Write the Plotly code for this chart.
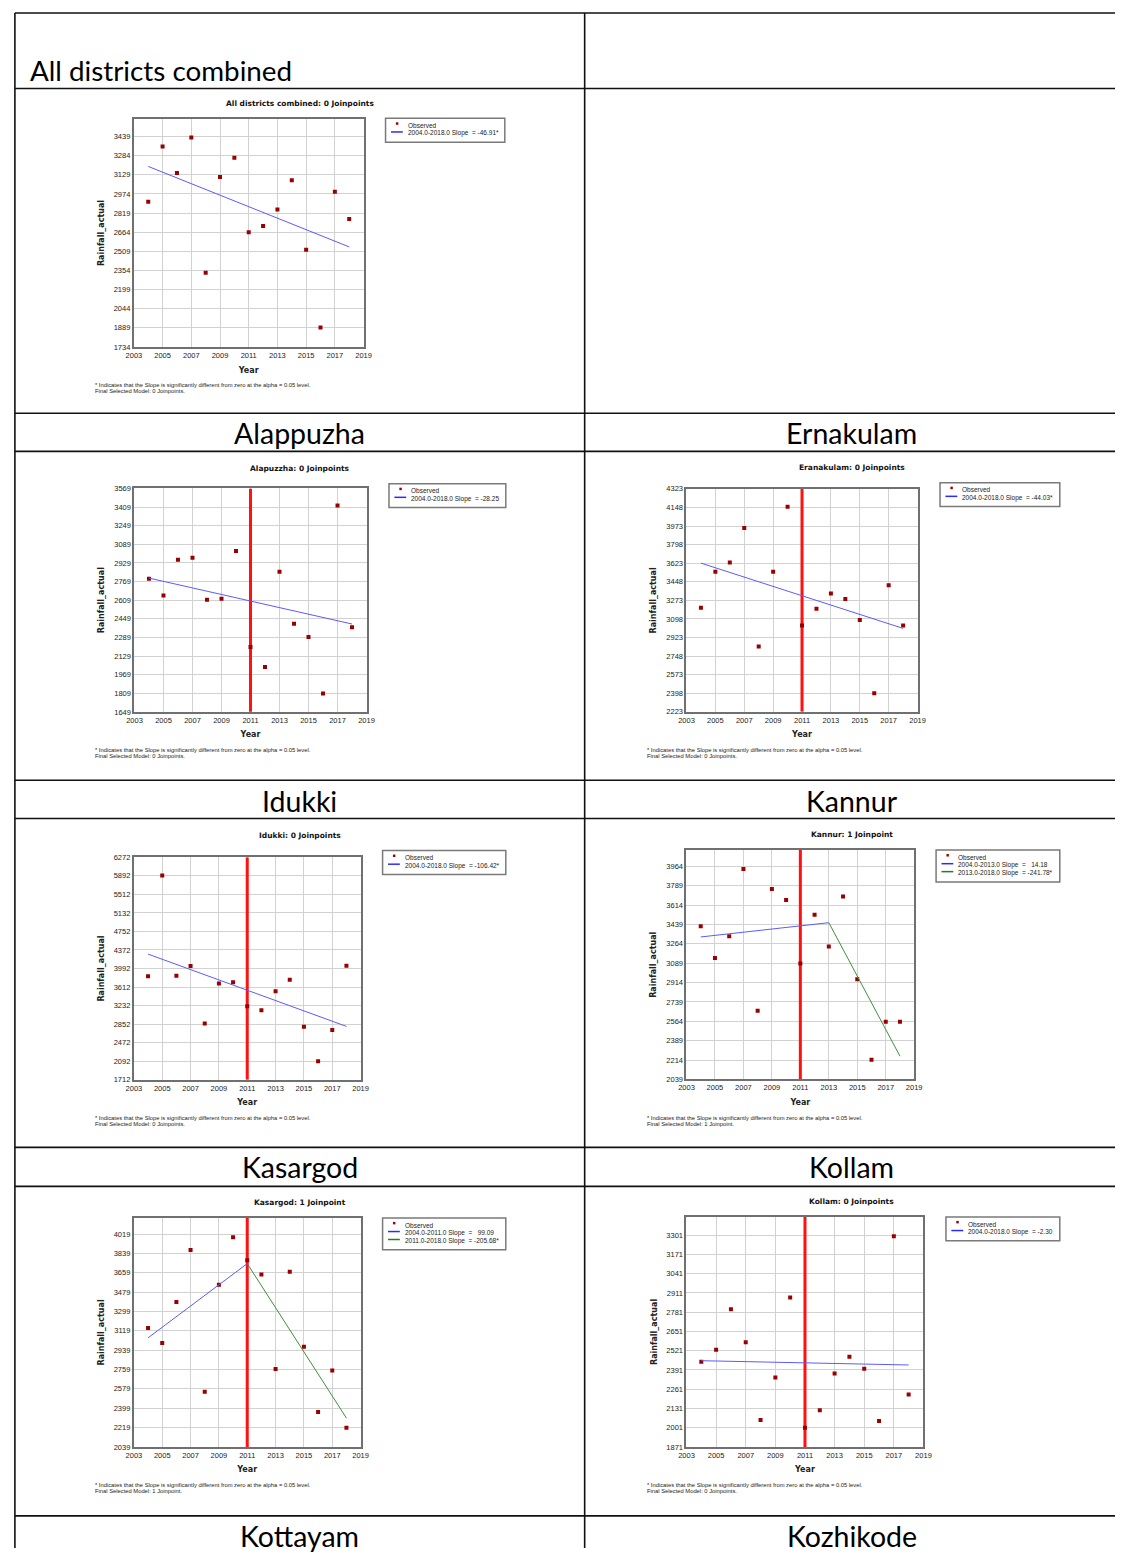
import plotly.graph_objects as go

W, H = 1123, 1553

# ---------------- data ----------------
years = [2004, 2005, 2006, 2007, 2008, 2009, 2010, 2011, 2012, 2013, 2014, 2015, 2016, 2017, 2018]
x_ticks = [2003, 2005, 2007, 2009, 2011, 2013, 2015, 2017, 2019]
joinpoint_marker_year = 2011

# All districts combined
all_vals = [2910, 3359, 3144, 3431, 2336, 3112, 3267, 2663, 2714, 2848, 3085, 2521, 1892, 2991, 2771]
all_ticks = [1734, 1889, 2044, 2199, 2354, 2509, 2664, 2819, 2974, 3129, 3284, 3439]
all_ymax = 3581
all_fit_years = [[2004, 2018]]
all_fit_vals = [[3197, 2545]]
all_legend = ["2004.0-2018.0 Slope  = -46.91*"]

# Alappuzha
alp_vals = [2794, 2650, 2957, 2974, 2613, 2622, 3031, 2207, 2035, 2854, 2407, 2293, 1806, 3423, 2376]
alp_ticks = [1649, 1809, 1969, 2129, 2289, 2449, 2609, 2769, 2929, 3089, 3249, 3409, 3569]
alp_ymax = 3569
alp_fit_years = [[2004, 2018]]
alp_fit_vals = [[2799, 2404]]
alp_legend = ["2004.0-2018.0 Slope  = -28.25"]

# Ernakulam
ern_vals = [3203, 3543, 3630, 3955, 2838, 3543, 4155, 3037, 3193, 3337, 3287, 3087, 2398, 3415, 3037]
ern_ticks = [2223, 2398, 2573, 2748, 2923, 3098, 3273, 3448, 3623, 3798, 3973, 4148, 4323]
ern_ymax = 4323
ern_fit_years = [[2004, 2018]]
ern_fit_vals = [[3624, 3009]]
ern_legend = ["2004.0-2018.0 Slope  = -44.03*"]

# Idukki
idk_vals = [3832, 5898, 3846, 4043, 2867, 3683, 3710, 3221, 3139, 3526, 3764, 2799, 2093, 2731, 4050]
idk_ticks = [1712, 2092, 2472, 2852, 3232, 3612, 3992, 4372, 4752, 5132, 5512, 5892, 6272]
idk_ymax = 6272
idk_fit_years = [[2004, 2018]]
idk_fit_vals = [[4288, 2806]]
idk_legend = ["2004.0-2018.0 Slope  = -106.42*"]

# Kannur
kan_vals = [3422, 3135, 3332, 3940, 2659, 3760, 3659, 3087, 3527, 3239, 3692, 2943, 2216, 2560, 2560]
kan_ticks = [2039, 2214, 2389, 2564, 2739, 2914, 3089, 3264, 3439, 3614, 3789, 3964]
kan_ymax = 4111
kan_fit_years = [[2004, 2013], [2013, 2018]]
kan_fit_vals = [[3326, 3455], [3455, 2249]]
kan_legend = ["2004.0-2013.0 Slope  =   14.18", "2013.0-2018.0 Slope  = -241.78*"]

# Kasargod
kas_vals = [3146, 3007, 3387, 3871, 2551, 3547, 3991, 3775, 3643, 2764, 3670, 2970, 2363, 2751, 2218]
kas_ticks = [2039, 2219, 2399, 2579, 2759, 2939, 3119, 3299, 3479, 3659, 3839, 4019]
kas_ymax = 4170
kas_fit_years = [[2004, 2011], [2011, 2018]]
kas_fit_vals = [[3054, 3745], [3745, 2307]]
kas_legend = ["2004.0-2011.0 Slope  =   99.09", "2011.0-2018.0 Slope  = -205.68*"]

# Kollam
kol_vals = [2446, 2527, 2800, 2578, 2052, 2339, 2880, 2001, 2119, 2366, 2480, 2399, 2046, 3294, 2225]
kol_ticks = [1871, 2001, 2131, 2261, 2391, 2521, 2651, 2781, 2911, 3041, 3171, 3301]
kol_ymax = 3424
kol_fit_years = [[2004, 2018]]
kol_fit_vals = [[2453, 2424]]
kol_legend = ["2004.0-2018.0 Slope  = -2.30"]

row_labels = ["Alappuzha", "Ernakulam", "Idukki", "Kannur", "Kasargod", "Kollam", "Kottayam", "Kozhikode"]

# ---------------- styling / layout ----------------
RED_MARK = "#990000"
FIT_COLORS = ["#5b5bff", "#3f8f3f"]
LEG_COLORS = ["#2b2bff", "#2a7a2a"]
GRID = "#d2d2d2"
FRAME = "#707070"
TICKFONT = dict(family="Liberation Sans, Arial, sans-serif", size=7.5, color="#222222")
BOLDFONT = "DejaVu Sans, Verdana, sans-serif"
SMALLFONT = "Liberation Sans, Arial, sans-serif"
BIGFONT = "Lato, Open Sans, sans-serif"


def px(x):
    return x / W


def py(y):
    return 1 - y / H


panels = [
    dict(title="All districts combined: 0 Joinpoints", vals=all_vals, ticks=all_ticks, ymax=all_ymax,
         fy=all_fit_years, fv=all_fit_vals, leg=all_legend, jp="0 Joinpoints", red=False, col=0,
         box=(127.7, 360.7, 115.7, 345.0), title_y=100.5, legbox=(383, 504, 115)),
    dict(title="Alapuzzha: 0 Joinpoints", vals=alp_vals, ticks=alp_ticks, ymax=alp_ymax,
         fy=alp_fit_years, fv=alp_fit_vals, leg=alp_legend, jp="0 Joinpoints", red=True, col=0,
         box=(128.3, 363.7, 487.3, 712.0), title_y=467.5, legbox=(386.5, 505, 482.5)),
    dict(title="Eranakulam: 0 Joinpoints", vals=ern_vals, ticks=ern_ticks, ymax=ern_ymax,
         fy=ern_fit_years, fv=ern_fit_vals, leg=ern_legend, jp="0 Joinpoints", red=True, col=1,
         box=(688.3, 922.7, 487.7, 712.0), title_y=466.3, legbox=(945.5, 1067, 481.5)),
    dict(title="Idukki: 0 Joinpoints", vals=idk_vals, ticks=idk_ticks, ymax=idk_ymax,
         fy=idk_fit_years, fv=idk_fit_vals, leg=idk_legend, jp="0 Joinpoints", red=True, col=0,
         box=(127.7, 357.7, 858.3, 1082.0), title_y=836.7, legbox=(380, 505, 851.5)),
    dict(title="Kannur: 1 Joinpoint", vals=kan_vals, ticks=kan_ticks, ymax=kan_ymax,
         fy=kan_fit_years, fv=kan_fit_vals, leg=kan_legend, jp="1 Joinpoint", red=True, col=1,
         box=(688.3, 919.3, 851.0, 1081.7), title_y=835.3, legbox=(941.5, 1067, 851)),
    dict(title="Kasargod: 1 Joinpoint", vals=kas_vals, ticks=kas_ticks, ymax=kas_ymax,
         fy=kas_fit_years, fv=kas_fit_vals, leg=kas_legend, jp="1 Joinpoint", red=True, col=0,
         box=(127.7, 357.7, 1221.0, 1451.3), title_y=1205.7, legbox=(380, 505, 1221)),
    dict(title="Kollam: 0 Joinpoints", vals=kol_vals, ticks=kol_ticks, ymax=kol_ymax,
         fy=kol_fit_years, fv=kol_fit_vals, leg=kol_legend, jp="0 Joinpoints", red=True, col=1,
         box=(688.3, 928.7, 1220.0, 1451.3), title_y=1204.7, legbox=(951.5, 1067, 1220)),
]

col_center = [296, 856]
foot_x = [86.5, 646.5]

fig = go.Figure()
shapes = []
annotations = []
layout_axes = {}

for i, p in enumerate(panels):
    n = "" if i == 0 else str(i + 1)
    xref, yref = "x" + n, "y" + n
    x0, x1, y0, y1 = p["box"]

    # joinpoint reference line (drawn first so the observed markers sit on top)
    if p["red"]:
        fig.add_trace(go.Scatter(
            x=[joinpoint_marker_year, joinpoint_marker_year], y=[p["ticks"][0], p["ymax"]],
            mode="lines", xaxis=xref, yaxis=yref, line=dict(color="#ff1111", width=3),
            showlegend=False, hoverinfo="skip"))

    fig.add_trace(go.Scatter(
        x=years, y=p["vals"], mode="markers", xaxis=xref, yaxis=yref,
        marker=dict(symbol="square", size=4, color=RED_MARK, line=dict(width=0)),
        name="Observed", showlegend=False, hoverinfo="x+y"))
    for k, (fy, fv) in enumerate(zip(p["fy"], p["fv"])):
        fig.add_trace(go.Scatter(
            x=fy, y=fv, mode="lines", xaxis=xref, yaxis=yref,
            line=dict(color=FIT_COLORS[k], width=1), name=p["leg"][k], showlegend=False))

    layout_axes["xaxis" + n] = dict(
        domain=[px(x0), px(x1)], anchor=yref, range=[2003, 2019], tickvals=x_ticks,
        ticktext=[str(t) for t in x_ticks], showgrid=True, gridcolor=GRID, gridwidth=1,
        showline=True, mirror=True, linecolor=FRAME, linewidth=2, ticks="", zeroline=False,
        tickfont=TICKFONT, fixedrange=True, tickangle=0,
        title=dict(text="<b>Year</b>", font=dict(family=BOLDFONT, size=8, color="#222222"), standoff=8))
    layout_axes["yaxis" + n] = dict(
        domain=[py(y1), py(y0)], anchor=xref, range=[p["ticks"][0], p["ymax"]], tickvals=p["ticks"],
        ticktext=[str(t) for t in p["ticks"]], showgrid=True, gridcolor=GRID, gridwidth=1,
        showline=True, mirror=True, linecolor=FRAME, linewidth=2, ticks="", zeroline=False,
        tickfont=TICKFONT, fixedrange=True,
        title=dict(text="<b>Rainfall_actual</b>", font=dict(family=BOLDFONT, size=8, color="#222222"),
                   standoff=8))

    # chart title
    annotations.append(dict(text="<b>" + p["title"] + "</b>", x=px(col_center[p["col"]]), y=py(p["title_y"]),
                            xref="paper", yref="paper", xanchor="center", yanchor="middle", showarrow=False,
                            font=dict(family=BOLDFONT, size=7.5, color="#111111")))
    # footnotes
    fx = foot_x[p["col"]]
    annotations.append(dict(text="* Indicates that the Slope is significantly different from zero at the alpha = 0.05 level.",
                            x=px(fx), y=py(y1 + 38.3), xref="paper", yref="paper", xanchor="left",
                            yanchor="middle", showarrow=False,
                            font=dict(family=SMALLFONT, size=5.8, color="#222222")))
    annotations.append(dict(text="Final Selected Model: " + p["jp"] + ".",
                            x=px(fx), y=py(y1 + 44.6), xref="paper", yref="paper", xanchor="left",
                            yanchor="middle", showarrow=False,
                            font=dict(family=SMALLFONT, size=5.8, color="#222222")))

    # legend box (drawn manually to match compact legend)
    lx0, lx1, ly0 = p["legbox"]
    nrows = 1 + len(p["leg"])
    ly1 = ly0 + 8 * nrows + 8
    shapes.append(dict(type="rect", xref="paper", yref="paper", x0=px(lx0), x1=px(lx1), y0=py(ly1), y1=py(ly0),
                       line=dict(color="#7a7a7a", width=1.5), fillcolor="white", layer="above"))
    shapes.append(dict(type="rect", xref="paper", yref="paper", x0=px(lx0 + 10.5), x1=px(lx0 + 13),
                       y0=py(ly0 + 6.5), y1=py(ly0 + 4), line=dict(width=0), fillcolor=RED_MARK, layer="above"))
    annotations.append(dict(text="Observed", x=px(lx0 + 20.5), y=py(ly0 + 7.2), xref="paper", yref="paper",
                            xanchor="left", yanchor="middle", showarrow=False,
                            font=dict(family=SMALLFONT, size=6.5, color="#222222")))
    for k, lab in enumerate(p["leg"]):
        ry = ly0 + 15.2 + 8 * k
        shapes.append(dict(type="line", xref="paper", yref="paper", x0=px(lx0 + 5.5), x1=px(lx0 + 17.5),
                           y0=py(ry - 1.5), y1=py(ry - 1.5), line=dict(color=LEG_COLORS[k], width=1.5),
                           layer="above"))
        annotations.append(dict(text=lab.replace("  ", "\u00a0 "), x=px(lx0 + 20.5), y=py(ry),
                                xref="paper", yref="paper", xanchor="left", yanchor="middle", showarrow=False,
                                font=dict(family=SMALLFONT, size=6.5, color="#222222")))

# ---------------- table grid ----------------
h_lines = [9, 85, 411.7, 450, 780.7, 819.3, 1150, 1189.3, 1520.7]
for yy in h_lines:
    shapes.append(dict(type="line", xref="paper", yref="paper", x0=px(7), x1=1, y0=py(yy), y1=py(yy),
                       line=dict(color="#111111", width=1.6), layer="above"))
for xx in [7, 585]:
    shapes.append(dict(type="line", xref="paper", yref="paper", x0=px(xx), x1=px(xx), y0=py(9), y1=0,
                       line=dict(color="#111111", width=1.6), layer="above"))

BIG = 28.5
annotations.append(dict(text="All districts combined", x=px(20), y=py(66.5), xref="paper", yref="paper",
                        xanchor="left", yanchor="middle", showarrow=False,
                        font=dict(family=BIGFONT, size=27.8, color="#000000")))
label_centers_y = [432, 432, 802, 802, 1170, 1170, 1541, 1541]
for j, lab in enumerate(row_labels):
    annotations.append(dict(text=lab, x=px(col_center[j % 2]), y=py(label_centers_y[j]), xref="paper",
                            yref="paper", xanchor="center", yanchor="middle", showarrow=False,
                            font=dict(family=BIGFONT, size=BIG, color="#000000")))

fig.update_layout(
    width=W, height=H, autosize=False, margin=dict(l=0, r=0, t=0, b=0),
    paper_bgcolor="white", plot_bgcolor="white", showlegend=False,
    shapes=shapes, annotations=annotations, **layout_axes)

post = (
    "document.documentElement.style.margin='0px';document.documentElement.style.padding='0px';"
    "document.body.style.margin='0px';document.body.style.padding='0px';document.body.style.overflow='hidden';"
    "var gd=document.getElementById('{plot_id}');gd.style.width='1123px';gd.style.height='1553px';"
    "Plotly.relayout(gd,{width:1123,height:1553,autosize:false});"
)
fig.write_html("out.html", config={"displayModeBar": False, "responsive": False}, post_script=post)
